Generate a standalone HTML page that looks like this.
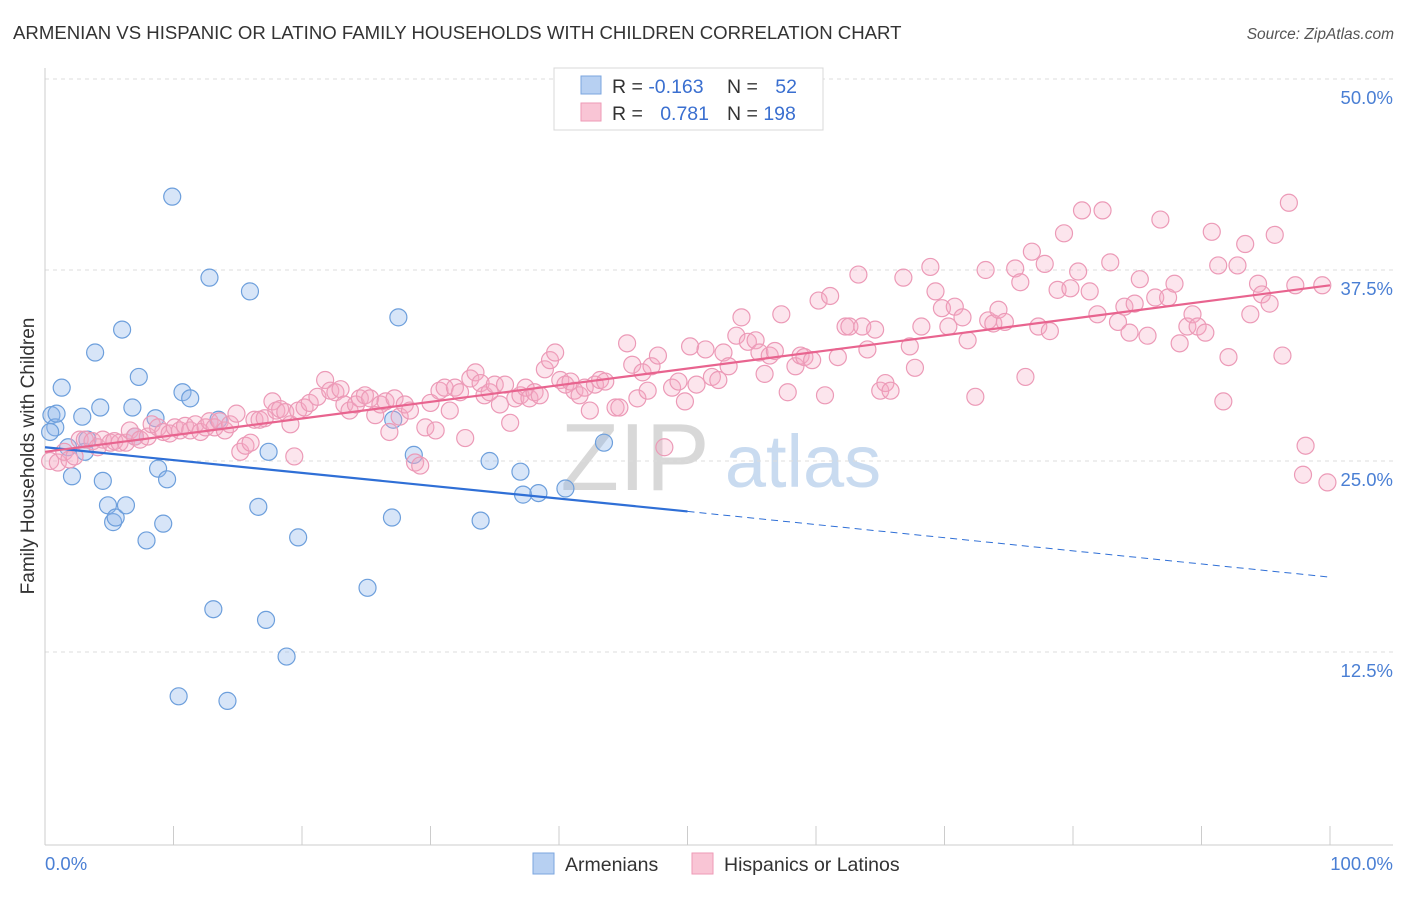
<!DOCTYPE html>
<html><head><meta charset="utf-8">
<style>
body{margin:0;background:#fff;font-family:"Liberation Sans",sans-serif;}
svg text{font-family:"Liberation Sans",sans-serif;}
</style></head>
<body>
<svg id="chart" width="1406" height="892" xmlns="http://www.w3.org/2000/svg">
<text x="13" y="39" font-size="18.6" fill="#333">ARMENIAN VS HISPANIC OR LATINO FAMILY HOUSEHOLDS WITH CHILDREN CORRELATION CHART</text>
<text x="1394" y="39" font-size="15.5" fill="#555" font-style="italic" text-anchor="end">Source: ZipAtlas.com</text>
<g>
<text x="635" y="490" font-size="96" fill="#d8d8d8" font-family="Liberation Serif" text-anchor="middle">ZIP</text>
<text x="803" y="487" font-size="74" fill="#c9dbf0" text-anchor="middle">atlas</text>
</g>
<g id="grid"></g>
<g id="axes"></g>
<g id="blue"></g>
<g id="pink"></g>
<g id="trends"></g>
<text transform="translate(34,456) rotate(-90)" font-size="19" fill="#333" text-anchor="middle">Family Households with Children</text>
<text x="45" y="870" font-size="18.5" fill="#4a7fd4">0.0%</text>
<text x="1393" y="870" font-size="18.5" fill="#4a7fd4" text-anchor="end">100.0%</text>
<g>
<rect x="554" y="68" width="269" height="62" fill="#fff" stroke="#d8d8d8"/>
<rect x="581" y="76" width="20" height="18" fill="#b7d0f2" stroke="#7ba6df"/>
<rect x="581" y="103" width="20" height="18" fill="#f9c5d5" stroke="#ee9ab6"/>
<text x="612" y="93" font-size="19.5" fill="#333">R = <tspan fill="#3a6fd0">-0.163</tspan></text>
<text x="727" y="93" font-size="19.5" fill="#333">N = </text><text x="797" y="93" font-size="19.5" fill="#3a6fd0" text-anchor="end">52</text>
<text x="612" y="120" font-size="19.5" fill="#333">R = </text><text x="709" y="120" font-size="19.5" fill="#3a6fd0" text-anchor="end">0.781</text>
<text x="727" y="120" font-size="19.5" fill="#333">N = <tspan fill="#3a6fd0">198</tspan></text>
</g>
<g>
<rect x="533" y="853" width="21" height="21" fill="#b7d0f2" stroke="#7ba6df"/>
<text x="565" y="871" font-size="19.5" fill="#333">Armenians</text>
<rect x="692" y="853" width="21" height="21" fill="#f9c5d5" stroke="#ee9ab6"/>
<text x="724" y="871" font-size="19.5" fill="#333">Hispanics or Latinos</text>
</g>
</svg>
<script>
const yTicks=[12.5,25,37.5,50];
const yTickLabels=["12.5%","25.0%","37.5%","50.0%"];
const xTicks=[0,10,20,30,40,50,60,70,80,90,100];
const blueX=[0.5,0.8,0.4,0.9,1.3,1.8,2.1,2.9,3.3,3.1,3.9,4.3,4.5,4.9,5.3,5.5,6.0,6.3,6.8,7.0,7.3,7.9,8.6,8.8,9.2,9.5,9.9,10.7,11.3,10.4,12.8,13.1,13.5,14.2,15.95,16.6,17.2,17.4,18.8,19.7,25.1,27.0,27.1,27.5,28.7,33.9,34.6,37.0,37.2,38.4,40.5,43.5];
const blueY=[28.0,27.2,26.9,28.1,29.8,25.9,24.0,27.9,26.4,25.6,32.1,28.5,23.7,22.1,21.0,21.3,33.6,22.1,28.5,26.6,30.5,19.8,27.8,24.5,20.9,23.8,42.3,29.5,29.1,9.6,37.0,15.3,27.7,9.3,36.1,22.0,14.6,25.6,12.2,20.0,16.7,21.3,27.7,34.4,25.4,21.1,25.0,24.3,22.8,22.9,23.2,26.2];
const pinkX=[0.4,1.0,1.5,1.9,2.3,2.7,3.1,3.7,4.1,4.5,5.1,5.4,5.8,6.3,6.6,7.0,7.4,8.0,8.3,8.8,9.2,9.7,10.1,10.5,10.9,11.3,11.7,12.1,12.5,12.8,13.2,13.6,14.0,14.4,14.9,15.2,15.6,16.0,16.3,16.7,17.1,17.7,18.0,18.3,18.7,19.1,19.4,19.7,20.2,20.6,21.2,21.8,22.2,22.6,23.0,23.3,23.7,24.2,24.5,24.9,25.3,25.7,26.1,26.5,26.8,27.2,27.6,28.0,28.4,28.8,29.2,29.6,30.0,30.4,30.7,31.1,31.5,31.9,32.3,32.7,33.1,33.5,33.9,34.2,34.6,35.0,35.4,35.8,36.2,36.6,37.0,37.4,37.7,38.1,38.5,38.9,39.3,39.7,40.1,40.5,40.9,41.2,41.6,42.0,42.4,42.8,43.2,43.6,44.4,44.7,45.3,45.7,46.1,46.5,46.9,47.2,47.7,48.2,48.8,49.3,49.8,50.2,50.7,51.4,51.9,52.4,52.8,53.2,53.8,54.2,54.7,55.3,55.6,56.0,56.4,56.8,57.3,57.8,58.4,58.8,59.1,59.7,60.2,60.7,61.1,61.7,62.3,62.6,63.3,63.6,64.0,64.6,65.0,65.4,65.8,66.8,67.3,67.7,68.2,68.9,69.3,69.8,70.3,70.8,71.4,71.8,72.4,73.2,73.4,73.8,74.2,74.7,75.5,75.9,76.3,76.8,77.3,77.8,78.2,78.8,79.3,79.8,80.4,80.7,81.3,81.9,82.3,82.9,83.5,84.0,84.4,84.8,85.2,85.8,86.4,86.8,87.4,87.9,88.3,88.9,89.3,89.7,90.3,90.8,91.3,91.7,92.1,92.8,93.4,93.8,94.4,94.7,95.3,95.7,96.3,96.8,97.3,98.1,97.9,99.4,99.8];
const pinkY=[25.0,24.9,25.6,25.1,25.3,26.4,26.4,26.3,25.9,26.4,26.2,26.3,26.2,26.2,27.0,26.6,26.4,26.6,27.4,27.2,26.9,26.8,27.2,27.0,27.3,27.0,27.4,26.9,27.2,27.6,27.2,27.6,27.0,27.4,28.1,25.6,26.0,26.2,27.7,27.7,27.8,28.9,28.3,28.4,28.2,27.4,25.3,28.3,28.5,28.8,29.2,30.3,29.6,29.5,29.7,28.7,28.3,28.7,29.1,29.3,29.1,28.0,28.7,28.9,26.9,29.1,27.9,28.7,28.3,24.9,24.7,27.2,28.8,27.0,29.6,29.8,28.3,29.8,29.5,26.5,30.4,30.8,30.1,29.3,29.5,30.0,28.7,30.0,27.5,29.1,29.3,29.8,29.1,29.5,29.3,31.0,31.6,32.1,30.3,30.0,30.2,29.6,29.3,29.8,28.3,30.0,30.3,30.2,28.5,28.5,32.7,31.3,29.1,30.8,29.6,31.2,31.9,25.9,29.8,30.2,28.9,32.5,30.0,32.3,30.5,30.3,32.1,31.2,33.2,34.4,32.8,32.9,32.1,30.7,31.9,32.2,34.6,29.5,31.2,31.9,31.8,31.6,35.5,29.3,35.8,31.8,33.8,33.8,37.2,33.8,32.3,33.6,29.6,30.1,29.6,37.0,32.5,31.1,33.8,37.7,36.1,35.0,33.8,35.1,34.4,32.9,29.2,37.5,34.2,34.0,34.9,34.1,37.6,36.7,30.5,38.7,33.8,37.9,33.5,36.2,39.9,36.3,37.4,41.4,36.1,34.6,41.4,38.0,34.1,35.1,33.4,35.3,36.9,33.2,35.7,40.8,35.7,36.6,32.7,33.8,34.6,33.8,33.4,40.0,37.8,28.9,31.8,37.8,39.2,34.6,36.6,35.9,35.3,39.8,31.9,41.9,36.5,26.0,24.1,36.5,23.6];
const blueTrend=[25.9,21.7,17.4]; // at x=0,50,100
const pinkTrend=[25.6,36.5];      // at x=0,100

const NS="http://www.w3.org/2000/svg";
const X=v=>45+v*12.85;
const Y=v=>843-v*15.28;
function mk(tag,attrs,parent){const e=document.createElementNS(NS,tag);for(const k in attrs)e.setAttribute(k,attrs[k]);parent.appendChild(e);return e;}
const grid=document.getElementById('grid'),axes=document.getElementById('axes');
yTicks.forEach((t,i)=>{
  const l=mk('line',{x1:45,x2:1393,y1:Y(t),y2:Y(t),stroke:'#ddd','stroke-dasharray':'4,4'},grid);
  
  
  const tx=mk('text',{x:1393,y:Y(t)+25,'font-size':18.5,fill:'#4a7fd4','text-anchor':'end'},grid);
  tx.textContent=yTickLabels[i];
  
  
});
const ax1=mk('line',{x1:45,x2:45,y1:68,y2:845,stroke:'#ccc'},axes);


const ax2=mk('line',{x1:45,x2:1393,y1:845,y2:845,stroke:'#ccc'},axes);


xTicks.forEach(t=>{
  const l=mk('line',{x1:X(t),x2:X(t),y1:826,y2:845,stroke:'#ccc'},axes);
  
  
});
const bg=document.getElementById('blue');
blueX.forEach((x,i)=>{
  const c=mk('circle',{cx:X(x),cy:Y(blueY[i]),r:8.5,fill:'rgba(140,180,235,0.35)',stroke:'#6d9fdc','stroke-width':1.2},bg);
  
  
});
const pg=document.getElementById('pink');
pinkX.forEach((x,i)=>{
  const c=mk('circle',{cx:X(x),cy:Y(pinkY[i]),r:8.5,fill:'rgba(245,170,195,0.3)',stroke:'#ec9ab7','stroke-width':1.2},pg);
  
  
});
const tg=document.getElementById('trends');
const b1=mk('line',{x1:X(0),y1:Y(blueTrend[0]),x2:X(50),y2:Y(blueTrend[1]),stroke:'#2f6fd6','stroke-width':2.2},tg);


const b2=mk('line',{x1:X(50),y1:Y(blueTrend[1]),x2:X(100),y2:Y(blueTrend[2]),stroke:'#2f6fd6','stroke-width':1,'stroke-dasharray':'7,5'},tg);


const p1=mk('line',{x1:X(0),y1:Y(pinkTrend[0]),x2:X(100),y2:Y(pinkTrend[1]),stroke:'#e8648f','stroke-width':2.2},tg);


</script>
</body></html>
